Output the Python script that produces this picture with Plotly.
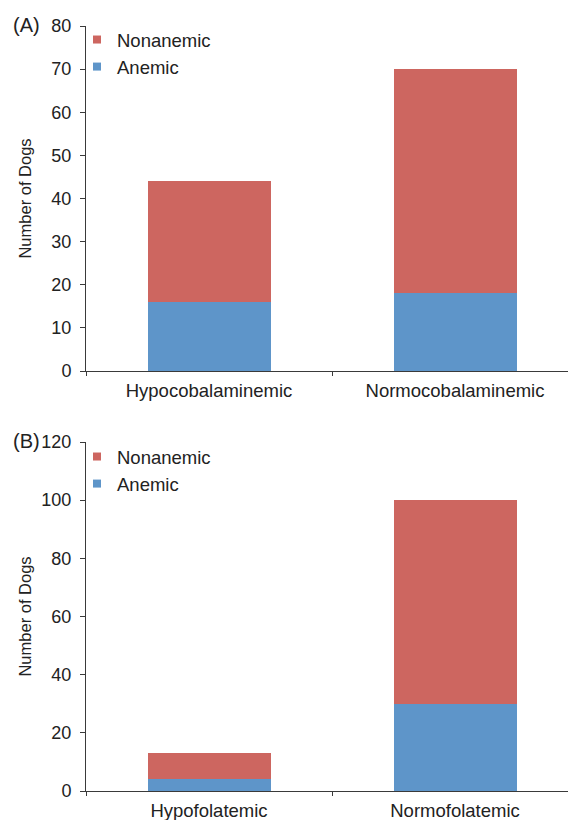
import plotly.graph_objects as go

# ---- data ----
cat_a = ["Hypocobalaminemic", "Normocobalaminemic"]
anemic_a = [16, 18]
nonanemic_a = [28, 52]

cat_b = ["Hypofolatemic", "Normofolatemic"]
anemic_b = [4, 30]
nonanemic_b = [9, 70]

RED = "#CD6660"
BLUE = "#5E95C9"
AX = "#3a3a3a"
TXT = "#222222"
FONT = "Liberation Sans, Arial, sans-serif"

W, H = 568, 820

fig = go.Figure()

# top panel bars
fig.add_trace(go.Bar(x=cat_a, y=anemic_a, marker_color=BLUE, width=0.5,
                     showlegend=False, xaxis="x", yaxis="y", marker_line_width=0))
fig.add_trace(go.Bar(x=cat_a, y=nonanemic_a, marker_color=RED, width=0.5,
                     showlegend=False, xaxis="x", yaxis="y", marker_line_width=0))
# bottom panel bars
fig.add_trace(go.Bar(x=cat_b, y=anemic_b, marker_color=BLUE, width=0.5,
                     showlegend=False, xaxis="x2", yaxis="y2", marker_line_width=0))
fig.add_trace(go.Bar(x=cat_b, y=nonanemic_b, marker_color=RED, width=0.5,
                     showlegend=False, xaxis="x2", yaxis="y2", marker_line_width=0))

# legend proxies (small squares)
for leg, xa, ya in [("legend", "x", "y"), ("legend2", "x2", "y2")]:
    fig.add_trace(go.Scatter(x=[None], y=[None], mode="markers", name="Nonanemic",
                             legendgroup=leg + "n", legendrank=1,
                             marker=dict(symbol="square", size=8, color=RED),
                             legend=leg, xaxis=xa, yaxis=ya))
    fig.add_trace(go.Scatter(x=[None], y=[None], mode="markers", name="Anemic",
                             legendgroup=leg + "a", legendrank=2,
                             marker=dict(symbol="square", size=8, color=BLUE),
                             legend=leg, xaxis=xa, yaxis=ya))

x_left = 86 / W
xrange = [-0.5, -0.5 + (W - 86) / 246]

def xaxis(anchor):
    return dict(type="category", range=xrange, domain=[x_left, 1], anchor=anchor,
                automargin=False,
                showline=True, linecolor=AX, linewidth=1, ticks="outside",
                tickson="boundaries", ticklen=4, tickcolor=AX, showgrid=False,
                ticklabelstandoff=3,
                tickfont=dict(size=18.5, color=TXT, family=FONT))

def yaxis(anchor, rng, dtick, dom, standoff):
    return dict(range=rng, dtick=dtick, domain=dom, anchor=anchor, showline=True,
                automargin=False,
                linecolor=AX, linewidth=1, ticks="outside", ticklen=5, tickcolor=AX,
                ticklabelstandoff=5,
                showgrid=False, zeroline=False,
                tickfont=dict(size=18, color=TXT, family=FONT),
                title=dict(text="Number of Dogs", font=dict(size=16.5, color=TXT, family=FONT),
                           standoff=standoff))

legend_common = dict(xanchor="left", yanchor="top", traceorder="grouped",
                     tracegroupgap=0,
                     font=dict(size=18.5, color=TXT, family=FONT),
                     bgcolor="rgba(0,0,0,0)")

fig.update_layout(
    width=W, height=H,
    margin=dict(l=0, r=0, t=0, b=0, autoexpand=False),
    barmode="stack",
    plot_bgcolor="white", paper_bgcolor="white",
    font=dict(family=FONT, color=TXT),
    xaxis=xaxis("y"),
    yaxis=yaxis("x", [0, 80], 10, [(H - 371) / H, (H - 26) / H], 15),
    xaxis2=xaxis("y2"),
    yaxis2=yaxis("x2", [0, 120], 20, [(H - 791) / H, (H - 442) / H], 5),
    legend=dict(x=77 / W, y=1 - 21 / H, **legend_common),
    legend2=dict(x=77 / W, y=1 - 438 / H, **legend_common),
    annotations=[
        dict(text="(A)", x=26 / W, y=1 - 25 / H, xref="paper", yref="paper",
             xanchor="center", yanchor="middle",
             showarrow=False, font=dict(size=20, color=TXT, family=FONT)),
        dict(text="(B)", x=26 / W, y=1 - 441 / H, xref="paper", yref="paper",
             xanchor="center", yanchor="middle",
             showarrow=False, font=dict(size=20, color=TXT, family=FONT)),
    ],
)

fig.write_html("out.html", config={"displayModeBar": False},
               post_script="document.body.style.margin='0px';")
